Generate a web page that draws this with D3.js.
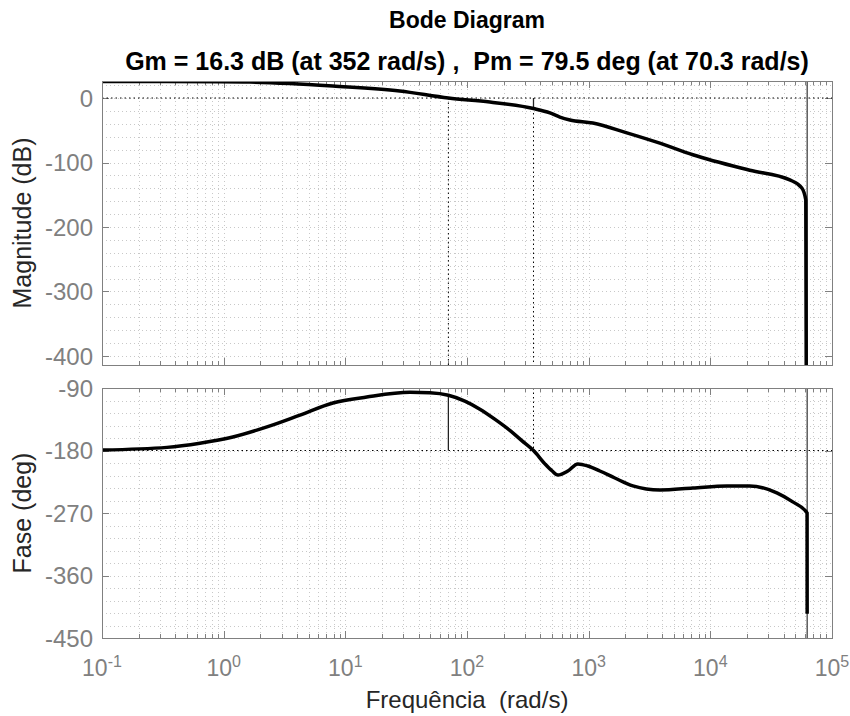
<!DOCTYPE html>
<html>
<head>
<meta charset="utf-8">
<script src="https://cdn.jsdelivr.net/npm/d3@7"></script>
<style>
  body { margin: 0; background: #fff; }
  svg text { font-family: "Liberation Sans", Arial, Helvetica, sans-serif; }
</style>
</head>
<body>
<div id="chart"></div>
<script>
// values
var magFreq = [0.1, 0.93, 1.64, 3.5, 7.9, 28, 70.3, 154, 352, 480, 580, 701, 1082, 2060, 3846, 7180, 21100, 45000, 56500, 60900, 62500];
var magDb   = [25.6, 25.3, 24.8, 22.5, 18.6, 10.9, 0, -6.2, -16.3, -23, -29.5, -34, -38.8, -54, -70, -88, -112, -127, -139.5, -158, -1000];

var phFreq = [0.1, 0.342, 0.638, 1.19, 2.27, 4.24, 7.9, 15, 34, 49.5, 70.3, 96, 127.6, 169, 225, 282, 352, 437, 499, 558, 675, 815, 984, 1236, 1641, 2307, 3846, 7180, 13680, 21100, 35200, 47600, 62400, 62500];
var phDeg  = [-179.3, -175.5, -169.5, -160.6, -146, -129, -111.6, -103, -96.2, -96.9, -100.5, -108.9, -120.5, -134.8, -151, -165.7, -180, -199.2, -209.2, -215.3, -209.5, -199.4, -202.3, -209.5, -219.6, -231, -236.9, -234, -231, -231, -241, -254, -270, -415];

var xTickExp = [-1, 0, 1, 2, 3, 4, 5];
var magTicks = [0, -100, -200, -300, -400];
var phTicks = [-90, -180, -270, -360, -450];

var gm = 16.3, wcg = 352;   // gain margin
var pm = 79.5, wcp = 70.3;  // phase margin
var wDrop = 62500;

var width = 850, height = 716;
var svg = d3.select("#chart").append("svg")
    .attr("width", width)
    .attr("height", height);

var x = d3.scaleLog().domain([0.1, 1e5]).range([102, 832]);
var yMag = d3.scaleLinear().domain([-414, 26.4]).range([365, 81]);
var yPh = d3.scaleLinear().domain([-450, -90]).range([638, 388]);

var minorX = [];
for (var e = -1; e < 5; e++) {
  for (var k = 1; k < 10; k++) minorX.push(k * Math.pow(10, e));
}
minorX.push(1e5);

function panel(y, yTicks, minorStep, id) {
  var g = svg.append("g");
  var x0 = x.range()[0], x1 = x.range()[1];
  var yr = y.range(), yTop = yr[1], yBot = yr[0];

  svg.append("clipPath").attr("id", id)
    .append("rect").attr("x", x0).attr("y", yTop).attr("width", x1 - x0).attr("height", yBot - yTop);

  // grid (major + minor) dotted
  var dom = y.domain();
  var yGrid = d3.range(Math.ceil(dom[0] / minorStep) * minorStep, dom[1] + 0.001, minorStep);
  g.selectAll(".gy").data(yGrid).enter().append("line")
    .attr("x1", x0).attr("x2", x1)
    .attr("y1", function(d) { return Math.round(y(d)) + 0.5; })
    .attr("y2", function(d) { return Math.round(y(d)) + 0.5; })
    .attr("stroke", "#c8c8c8").attr("stroke-width", 1).attr("stroke-dasharray", "1,3");
  g.selectAll(".gx").data(minorX).enter().append("line")
    .attr("y1", yTop).attr("y2", yBot)
    .attr("x1", function(d) { return Math.round(x(d)) + 0.5; })
    .attr("x2", function(d) { return Math.round(x(d)) + 0.5; })
    .attr("stroke", "#c8c8c8").attr("stroke-width", 1).attr("stroke-dasharray", "1,3");

  // ticks inside, all four sides
  var tk = g.append("g").attr("stroke", "#808080").attr("stroke-width", 1);
  minorX.forEach(function(d) {
    var major = Math.abs(Math.log10(d) - Math.round(Math.log10(d))) < 1e-9;
    var len = major ? 7 : 4;
    var xx = Math.round(x(d)) + 0.5;
    tk.append("line").attr("x1", xx).attr("x2", xx).attr("y1", yTop).attr("y2", yTop + len);
    tk.append("line").attr("x1", xx).attr("x2", xx).attr("y1", yBot).attr("y2", yBot - len);
  });
  yTicks.forEach(function(d) {
    var yy = Math.round(y(d)) + 0.5;
    tk.append("line").attr("x1", x0).attr("x2", x0 + 7).attr("y1", yy).attr("y2", yy);
    tk.append("line").attr("x1", x1).attr("x2", x1 - 7).attr("y1", yy).attr("y2", yy);
  });

  // y tick labels
  g.selectAll(".yl").data(yTicks).enter().append("text")
    .attr("x", x0 - 9).attr("y", function(d) { return y(d); })
    .attr("dy", "0.36em")
    .attr("text-anchor", "end")
    .attr("fill", "#808080")
    .style("font-size", "24px")
    .text(function(d) { return d; });

  return g;
}

var gMag = panel(yMag, magTicks, 20, "clipMag");
var gPh = panel(yPh, phTicks, 18, "clipPh");

// margin markers, magnitude panel
gMag.append("line")
  .attr("x1", x(0.1)).attr("x2", x(1e5)).attr("y1", yMag(0)).attr("y2", yMag(0))
  .attr("stroke", "#000").attr("stroke-dasharray", "1.5,3");
gMag.append("line")
  .attr("x1", x(wcp)).attr("x2", x(wcp)).attr("y1", yMag(0)).attr("y2", yMag(-414))
  .attr("stroke", "#000").attr("stroke-dasharray", "1.5,3");
gMag.append("line")
  .attr("x1", x(wcg)).attr("x2", x(wcg)).attr("y1", yMag(-gm)).attr("y2", yMag(-414))
  .attr("stroke", "#000").attr("stroke-dasharray", "1.5,3");
gMag.append("line")
  .attr("x1", x(wcg)).attr("x2", x(wcg)).attr("y1", yMag(0)).attr("y2", yMag(-gm))
  .attr("stroke", "#222").attr("stroke-width", 1.3);

// margin markers, phase panel
gPh.append("line")
  .attr("x1", x(0.1)).attr("x2", x(1e5)).attr("y1", yPh(-180)).attr("y2", yPh(-180))
  .attr("stroke", "#000").attr("stroke-dasharray", "1.5,3");
gPh.append("line")
  .attr("x1", x(wcg)).attr("x2", x(wcg)).attr("y1", yPh(-90)).attr("y2", yPh(-180))
  .attr("stroke", "#000").attr("stroke-dasharray", "1.5,3");
gPh.append("line")
  .attr("x1", x(wcp)).attr("x2", x(wcp)).attr("y1", yPh(-180)).attr("y2", yPh(-180 + pm))
  .attr("stroke", "#222").attr("stroke-width", 1.3);

// thin line at the drop frequency in both panels
[[gMag, yMag], [gPh, yPh]].forEach(function(p) {
  var r = p[1].range();
  p[0].append("line")
    .attr("x1", x(wDrop)).attr("x2", x(wDrop)).attr("y1", r[1]).attr("y2", r[0])
    .attr("stroke", "#333").attr("stroke-width", 1.2);
});

// curves
var magLine = d3.line()
  .x(function(d, i) { return x(magFreq[i]); })
  .y(function(d) { return yMag(d); })
  .curve(d3.curveMonotoneX);
gMag.append("path")
  .attr("d", magLine(magDb))
  .attr("clip-path", "url(#clipMag)")
  .attr("fill", "none").attr("stroke", "#000").attr("stroke-width", 3.5);

var phLine = d3.line()
  .x(function(d, i) { return x(phFreq[i]); })
  .y(function(d) { return yPh(d); })
  .curve(d3.curveMonotoneX);
gPh.append("path")
  .attr("d", phLine(phDeg))
  .attr("clip-path", "url(#clipPh)")
  .attr("fill", "none").attr("stroke", "#000").attr("stroke-width", 3.5);

// boxes
[yMag, yPh].forEach(function(y) {
  var r = y.range();
  svg.append("rect")
    .attr("x", x.range()[0] + 0.5).attr("y", r[1] + 0.5)
    .attr("width", x.range()[1] - x.range()[0]).attr("height", r[0] - r[1])
    .attr("fill", "none").attr("stroke", "#808080").attr("stroke-width", 1);
});

// x tick labels (powers of ten)
var xl = svg.selectAll(".xl").data(xTickExp).enter().append("text")
  .attr("x", function(d) { return x(Math.pow(10, d)); })
  .attr("y", 676)
  .attr("text-anchor", "middle")
  .attr("fill", "#808080")
  .style("font-size", "23px");
xl.append("tspan").text("10");
xl.append("tspan").attr("dy", "-0.55em").style("font-size", "16px").text(function(d) { return d; });

// labels
svg.append("text")
  .attr("transform", "translate(31,223) rotate(-90)")
  .attr("text-anchor", "middle")
  .attr("fill", "#262626")
  .style("font-size", "25px")
  .text("Magnitude (dB)");
svg.append("text")
  .attr("transform", "translate(31,513) rotate(-90)")
  .attr("text-anchor", "middle")
  .attr("fill", "#262626")
  .style("font-size", "25px")
  .text("Fase (deg)");
svg.append("text")
  .attr("x", 467).attr("y", 708)
  .attr("text-anchor", "middle")
  .attr("fill", "#262626")
  .style("font-size", "24px")
  .style("white-space", "pre")
  .text("Frequência  (rad/s)");

svg.append("text")
  .attr("x", 467).attr("y", 28)
  .attr("text-anchor", "middle")
  .attr("fill", "#000")
  .style("font-size", "23px").style("font-weight", "bold")
  .text("Bode Diagram");
svg.append("text")
  .attr("x", 467).attr("y", 70)
  .attr("text-anchor", "middle")
  .attr("fill", "#000")
  .style("font-size", "25px").style("font-weight", "bold")
  .style("white-space", "pre")
  .text("Gm = 16.3 dB (at 352 rad/s) ,  Pm = 79.5 deg (at 70.3 rad/s)");
</script>
</body>
</html>
